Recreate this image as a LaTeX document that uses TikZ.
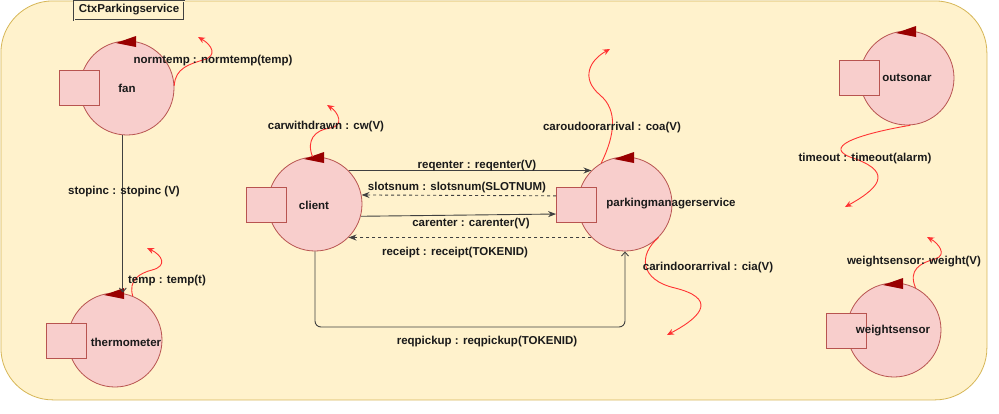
\documentclass[tikz,border=0pt]{standalone}
\usepackage{fontspec}
\setmainfont{Liberation Sans}
\usetikzlibrary{arrows.meta,calc}
\definecolor{bgfill}{HTML}{FFF2CC}
\definecolor{bgdraw}{HTML}{D6B656}
\definecolor{actfill}{HTML}{F8CECC}
\definecolor{actdraw}{HTML}{B85450}
\definecolor{tri}{HTML}{990000}
\definecolor{evt}{HTML}{FF3333}
\definecolor{conn}{HTML}{404040}
\definecolor{txt}{HTML}{1A1A1A}
\newcommand\acttri[1]{\fill[tri] ($(#1.center)+(9,-52)$) -- ($(#1.center)+(9,-41)$) -- ($(#1.center)+(-11,-45)$) -- cycle;}
\begin{document}
\begin{tikzpicture}[x=1pt,y=-1pt,
  actor/.style={circle,draw=actdraw,fill=actfill,minimum size=94pt,inner sep=0pt,line width=0.8pt},
  port/.style={rectangle,draw=actdraw,fill=actfill,minimum width=40pt,minimum height=35pt,inner sep=0pt,line width=0.8pt},
  lbl/.style={font=\fontsize{11.5}{13}\selectfont\bfseries,text=txt,inner sep=0pt},
  evtline/.style={draw=evt,line width=0.9pt,-{Stealth[length=7pt,width=6pt]}},
  msg/.style={draw=conn,line width=0.9pt,-{Stealth[length=8pt,width=6pt]}},
  dmsg/.style={msg,dash pattern=on 3pt off 3pt},
  openmsg/.style={draw=conn,line width=0.9pt,-{Straight Barb[length=4pt,width=7pt]}}
]
\useasboundingbox (0,0) rectangle (999,413);
% container
\node[draw=bgdraw,fill=bgfill,rounded corners=52pt,line width=0.8pt,minimum width=986pt,minimum height=399pt,inner sep=0pt,anchor=north west] (ctx) at (0.5,0.5) {};
\node[draw=conn,double=bgfill,double distance=0.8pt,line width=0.6pt,minimum width=110pt,minimum height=19pt,inner sep=0pt,anchor=north west] (title) at (74,0.8) {};
\node[lbl] (titlelbl) at (129,10) {CtxParkingservice};

% actors
\node[actor] (fan) at (127,88) {};
\node[port] (fanport) at (79,88) {};
\node[lbl] (fanlbl) at (127,88) {fan};
\acttri{fan}

\node[actor] (thermo) at (115,340) {};
\node[port] (thermoport) at (66,340.5) {};
\node[lbl] (thermolbl) at (126,342) {thermometer};
\acttri{thermo}

\node[actor] (client) at (315,204) {};
\node[port] (clientport) at (266.5,204.5) {};
\node[lbl] (clientlbl) at (314,205) {client};
\acttri{client}

\node[actor] (pms) at (625,204) {};
\node[port] (pmsport) at (576.5,204.5) {};
\node[lbl] (pmslbl) at (671,204) {parkingmanagerservice};
\acttri{pms}

\node[actor] (outsonar) at (907,78) {};
\node[port] (outsonarport) at (859,78) {};
\node[lbl] (outsonarlbl) at (907,78) {outsonar};
\acttri{outsonar}

\node[actor] (wsensor) at (894,330) {};
\node[port] (wsensorport) at (846,330.5) {};
\node[lbl] (wsensorlbl) at (893,331) {weightsensor};
\acttri{wsensor}

% free ends of events
\coordinate (normtempend) at (198,37);
\coordinate (tempend) at (147,248);
\coordinate (cwend) at (327,105);
\coordinate (coaend) at (610,49);
\coordinate (ciaend) at (667,335);
\coordinate (timeoutend) at (845,207);
\coordinate (weightend) at (927,237);
\coordinate (pickrow) at (0,327);

% events (red)
\draw[evtline] (fan.3) .. controls (175,68) and (190,64) .. (203,60) .. controls (218,56) and (212,45) .. (normtempend);
\draw[evtline] (thermo.68) .. controls (128,280) and (140,273) .. (152,270) .. controls (168,266) and (162,255) .. (tempend);
\draw[evtline] (client.93) .. controls (306,140) and (315,130) .. (330,128) .. controls (345,126) and (338,112) .. (cwend);
\draw[evtline] (pms.120) .. controls (615,135) and (618,110) .. (600,95) .. controls (580,78) and (590,60) .. (coaend);
\draw[evtline] (pms.-45) .. controls (638,255) and (640,280) .. (675,288) .. controls (715,298) and (705,315) .. (ciaend);
\draw[evtline] (outsonar.-86) .. controls (870,132) and (820,145) .. (850,157) .. controls (890,170) and (885,185) .. (timeoutend);
\draw[evtline] (wsensor.63) .. controls (908,270) and (920,263) .. (935,259) .. controls (948,255) and (938,243) .. (weightend);

% messages
\draw[openmsg] (fan.-95) -- (fan.-95 |- thermo.north);
\draw[msg] (client.45) -- (pms.135);
\draw[dmsg] (pmsport.157) -- (client.11);
\draw[msg] (client.-15) -- (pmsport.205);
\draw[dmsg] (pms.225) -- (client.-45);
\draw[openmsg,rounded corners=6pt] (client.south) -- (client.south |- pickrow) -- (pms.south |- pickrow) -- (pms.south);

% labels
\node[lbl] (normtemplbl) at (213,61) {normtemp : normtemp(temp)};
\node[lbl] (stopinclbl) at (124,192) {stopinc : stopinc (V)};
\node[lbl] (templbl) at (167,281) {temp : temp(t)};
\node[lbl] (cwlbl) at (326,127) {carwithdrawn : cw(V)};
\node[lbl] (reqenterlbl) at (477,166) {reqenter : reqenter(V)};
\node[lbl] (slotsnumlbl) at (457,188) {slotsnum : slotsnum(SLOTNUM)};
\node[lbl] (carenterlbl) at (471,224) {carenter : carenter(V)};
\node[lbl] (receiptlbl) at (455,253) {receipt : receipt(TOKENID)};
\node[lbl] (reqpickuplbl) at (487,342) {reqpickup : reqpickup(TOKENID)};
\node[lbl] (coalbl) at (612,128) {caroudoorarrival : coa(V)};
\node[lbl] (cialbl) at (708,268) {carindoorarrival : cia(V)};
\node[lbl] (timeoutlbl) at (865,159) {timeout : timeout(alarm)};
\node[lbl] (weightlbl) at (914,262) {weightsensor: weight(V)};
\end{tikzpicture}
\end{document}
